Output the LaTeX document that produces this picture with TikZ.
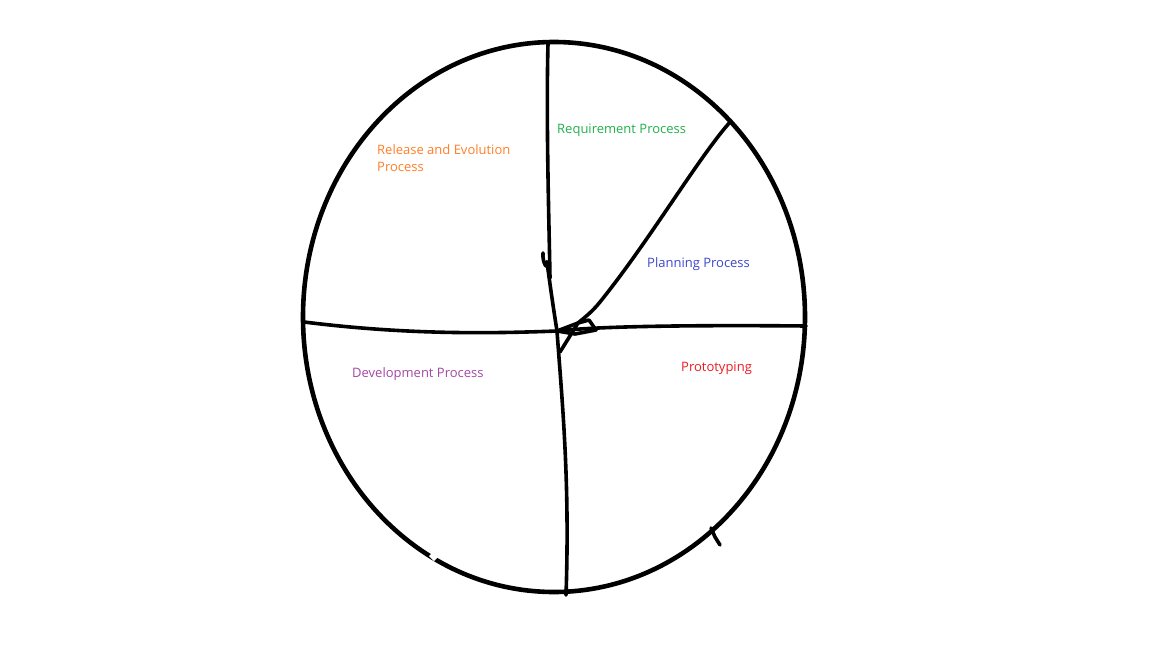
\documentclass[tikz,border=0pt]{standalone}
\usepackage{fontspec}
\setmainfont{Open Sans}
\usepackage{xcolor}
\usetikzlibrary{positioning}

\definecolor{paintorange}{RGB}{255,127,39}
\definecolor{paintgreen}{RGB}{34,177,76}
\definecolor{paintblue}{RGB}{63,72,204}
\definecolor{paintpurple}{RGB}{163,73,164}
\definecolor{paintred}{RGB}{237,28,36}

\begin{document}
\begin{tikzpicture}[x=1pt,y=-1pt]
\tikzstyle{stroke}=[line width=3.6pt,line cap=round,line join=round]
\tikzstyle{label}=[inner sep=0pt,anchor=west,font=\fontsize{13}{17}\selectfont,align=left]

\useasboundingbox[fill=white] (0,0) rectangle (1152,648);

% outer circle
\draw[stroke,line width=4.6pt] (554,317) ellipse [x radius=251, y radius=275];
\draw[white,line width=6pt] (431,554) -- (436,559);
\draw[stroke] (711,528) -- (715,537) -- (720,545);
\draw[line width=1pt] (409,91) -- (411,94);

% dividing strokes
\coordinate (top) at (548,44);
\coordinate (bot) at (566,595);
\coordinate (west) at (304,322);
\coordinate (east) at (806,326);
\coordinate (ne) at (731,121);
\coordinate (hub) at (557,331);
\coordinate (knot) at (578,323);

\draw[stroke] (top) .. controls (546,120) and (549,220) .. (550,278);
\draw[stroke] (543,253) .. controls (542,262) and (548,272) .. (547,262)
  .. controls (546,255) and (552,300) .. (hub)
  .. controls (562,400) and (570,480) .. (bot);
\draw[stroke] (west) .. controls (400,334) and (480,334) .. (hub)
  .. controls (600,326) and (700,325) .. (east);
\draw[stroke] (ne) .. controls (700,155) and (650,240) .. (600,302)
  .. controls (592,312) and (584,318) .. (knot) -- (hub);
\draw[stroke] (560,352) -- (knot) -- (589,320) -- (596,330) -- (575,334) -- (hub);

% labels
\node[label,text=paintorange] (release) at (377,158) {Release and Evolution\\Process};
\node[label,text=paintgreen] (require) at (557,130) {Requirement Process};
\node[label,text=paintblue] (planning) at (647,264) {Planning Process};
\node[label,text=paintpurple] (develop) at (352,374) {Development Process};
\node[label,text=paintred] (proto) at (681,368) {Prototyping};

\end{tikzpicture}
\end{document}
